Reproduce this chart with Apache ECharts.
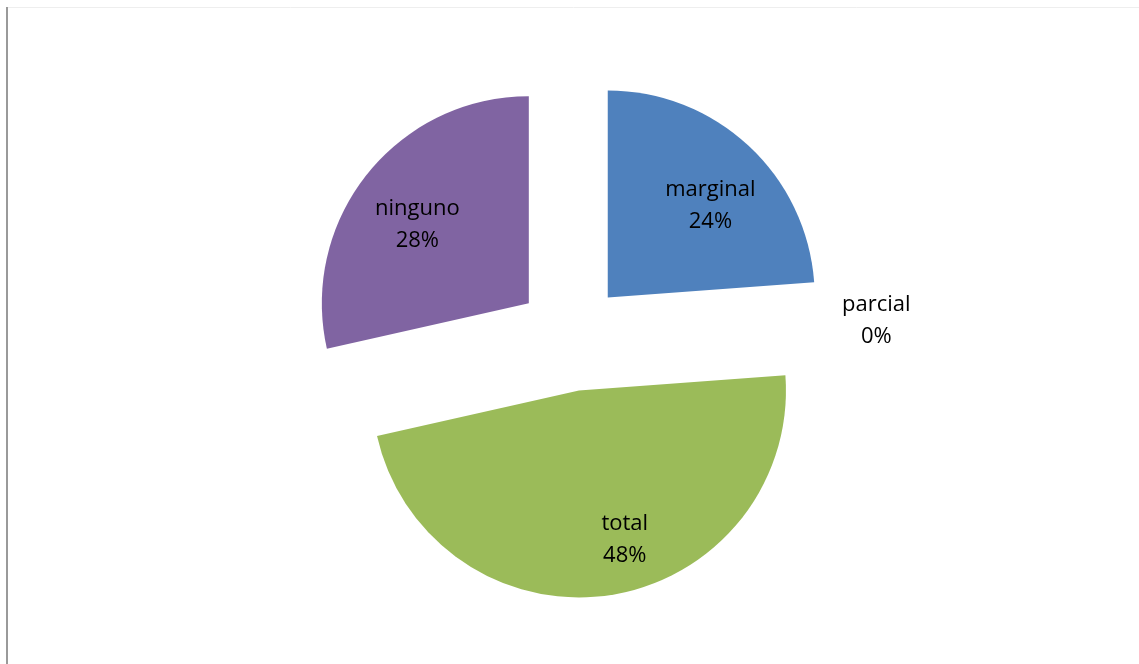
<!DOCTYPE html>
<html>
<head>
<meta charset="utf-8">
<script src="https://cdn.jsdelivr.net/npm/echarts@6/dist/echarts.min.js"></script>
<style>
  html, body { margin: 0; padding: 0; background: #fff; }
  #chart { width: 1139px; height: 664px; }
</style>
</head>
<body>
<div id="chart"></div>
<script>
// categories and shares (%)
const categories = ["marginal", "parcial", "total", "ninguno"];
const shares = [23.8, 0, 47.6, 28.5];
const colors = ["#4F81BD", "#C0504D", "#9BBB59", "#8064A2"];

// small nudges [dx, dy] so the labels sit where Excel put them
const labelNudge = {
  marginal: [2, 17],
  parcial: [0, 3],
  total: [24, 3],
  ninguno: [4, 14],
};

const chart = echarts.init(document.getElementById("chart"));

const center = [571, 337];
const radius = 207;
const offset = 54;
const font = "'Open Sans', sans-serif";

// slices
const sliceData = categories.map((name, i) => ({
  name: name,
  value: shares[i],
  selected: true,
  itemStyle: { color: colors[i] },
}));

// same data, transparent, only for label placement further out
const labelData = categories.map((name, i) => {
  const item = {
    name: name,
    value: shares[i],
    selected: true,
    itemStyle: { color: "rgba(0,0,0,0)" },
  };
  if (shares[i] === 0) {
    item.label = {
      position: "outside",
      formatter: "{a|{b}}\n{a|{d}%}",
      rich: { a: { width: 76, align: "center", fontSize: 22, lineHeight: 32, fontFamily: font, color: "#000" } },
    };
    item.labelLine = { show: false, length: 2, length2: 0 };
  }
  return item;
});

const option = {
  animation: false,
  graphic: [
    { type: "line", shape: { x1: 7, y1: 7, x2: 7, y2: 664 }, style: { stroke: "#9a9a9a", lineWidth: 2 } },
    { type: "line", shape: { x1: 8, y1: 7.5, x2: 1139, y2: 7.5 }, style: { stroke: "#eeeeee", lineWidth: 1 } },
  ],
  series: [
    {
      type: "pie",
      center: center,
      radius: [0, radius],
      startAngle: 90,
      selectedMode: "multiple",
      selectedOffset: offset,
      silent: true,
      label: { show: false },
      labelLine: { show: false },
      data: sliceData,
    },
    {
      type: "pie",
      center: center,
      radius: [radius * 0.4, radius],
      startAngle: 90,
      selectedMode: "multiple",
      selectedOffset: offset,
      percentPrecision: 0,
      silent: true,
      label: {
        show: true,
        position: "inside",
        formatter: "{b}\n{d}%",
        fontSize: 22,
        lineHeight: 32,
        fontFamily: font,
        color: "#000",
      },
      labelLayout: function (params) {
        const n = labelNudge[categories[params.dataIndex]];
        return n ? { dx: n[0], dy: n[1] } : {};
      },
      data: labelData,
    },
  ],
};

chart.setOption(option);
</script>
</body>
</html>
